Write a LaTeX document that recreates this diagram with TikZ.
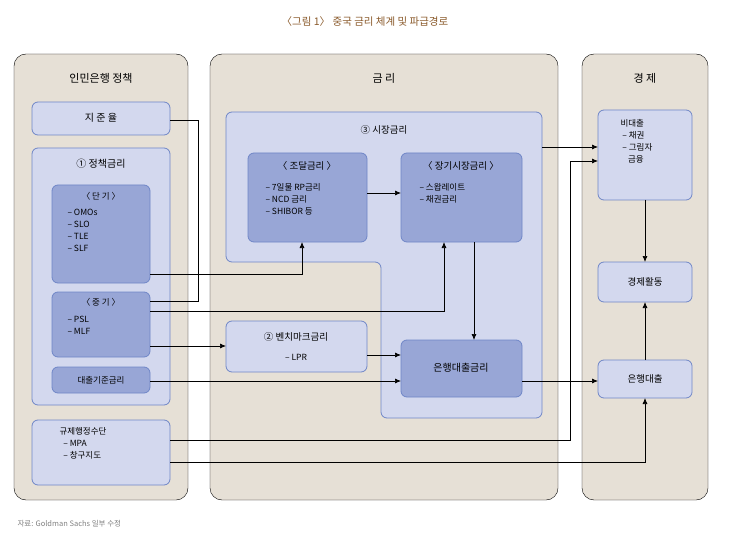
\documentclass[tikz,border=0pt]{standalone}
\usepackage{fontspec}
\setmainfont{Noto Sans CJK KR}
\usetikzlibrary{arrows.meta}
\definecolor{panel}{HTML}{E6E0D6}
\definecolor{lightbox}{HTML}{D3D8EE}
\definecolor{darkbox}{HTML}{98A6D6}
\definecolor{boxline}{HTML}{6F86C7}
\definecolor{titlecol}{HTML}{8A5A2B}
\begin{document}
\begin{tikzpicture}[x=1pt,y=-1pt,
    panel/.style={fill=panel,rounded corners=12pt},
    light/.style={fill=lightbox,draw=boxline,line width=0.8pt,rounded corners=6pt},
    dark/.style={fill=darkbox,draw=boxline,line width=0.8pt,rounded corners=6pt},
    head/.style={font=\fontsize{11}{13}\selectfont},
    txt/.style={font=\fontsize{8.5}{12}\selectfont,align=left},
    arr/.style={-{Latex[length=6pt,width=5pt]},line width=0.7pt},
    lin/.style={line width=0.7pt}]
    \useasboundingbox (0,0) rectangle (730,545);
    \node[titlecol,font=\fontsize{10.5}{12}\selectfont] (title) at (365,22) {〈그림 1〉 중국 금리 체계 및 파급경로};
    % panels
    \filldraw[panel] (14,54) rectangle (188,500);
    \filldraw[panel] (210,54) rectangle (558,500);
    \filldraw[panel] (582,54) rectangle (708,500);
    \node[head] (p1) at (101,78) {인민은행 정책};
    \node[head] (p2) at (384,78) {금 리};
    \node[head] (p3) at (645,78) {경 제};
    % policy side
    \draw[light] (32,102) rectangle (170,135);
    \node[head,font=\fontsize{10}{12}\selectfont] (jijun) at (101,118) {지 준 율};
    \draw[light] (32,148) rectangle (170,405);
    \node[head,font=\fontsize{10}{12}\selectfont] (jeongchaek) at (101,164) {① 정책금리};
    \draw[dark] (52,185) rectangle (150,283);
    \node[txt,anchor=north] (dangi) at (101,189) {〈 단 기 〉};
    \node[txt,anchor=north west] (dangiitems) at (64,206) {– OMOs\\– SLO\\– TLE\\– SLF};
    \draw[dark] (52,292) rectangle (150,357);
    \node[txt,anchor=north] (junggi) at (101,295) {〈 중 기 〉};
    \node[txt,anchor=north west] (junggiitems) at (64,313) {– PSL\\– MLF};
    \draw[dark] (52,367) rectangle (150,393);
    \node[txt] (gijun) at (101,380) {대출기준금리};
    \draw[light] (32,420) rectangle (170,485);
    \node[txt,anchor=north west] (gyuje) at (56,424) {규제행정수단\\\ \ – MPA\\\ \ – 창구지도};
    % market rates
    \draw[light,fill=lightbox] (226,112) -- (542,112) -- (542,418) -- (381,418) -- (381,262) -- (226,262) -- cycle;
    \node[txt,font=\fontsize{9.5}{12}\selectfont] (sijang) at (384,130) {③ 시장금리};
    \draw[dark] (248,153) rectangle (367,242);
    \node[txt,anchor=north,font=\fontsize{9.5}{12}\selectfont] (jodal) at (307,158) {〈 조달금리 〉};
    \node[txt,anchor=north west] (jodalitems) at (262,180) {– 7일물 RP금리\\– NCD 금리\\– SHIBOR 등};
    \draw[dark] (401,153) rectangle (522,242);
    \node[txt,anchor=north,font=\fontsize{9.5}{12}\selectfont] (janggi) at (461,158) {〈 장기시장금리 〉};
    \node[txt,anchor=north west] (janggiitems) at (416,180) {– 스왑레이트\\– 채권금리};
    \draw[light] (226,321) rectangle (367,372);
    \node[txt,font=\fontsize{9.5}{12}\selectfont] (bench) at (296,337) {② 벤치마크금리};
    \node[txt] (lpr) at (296,357) {– LPR};
    \draw[dark] (401,340) rectangle (522,397);
    \node[txt,font=\fontsize{10}{12}\selectfont] (loanrate) at (461,368) {은행대출금리};
    % economy
    \draw[light] (598,110) rectangle (692,200);
    \node[txt,anchor=north west] (bidaechul) at (617,116) {비대출\\\ – 채권\\\ – 그림자\\\ \ \ \ 금융};
    \draw[light] (598,262) rectangle (692,302);
    \node[txt,font=\fontsize{9.5}{12}\selectfont] (hwaldong) at (645,282) {경제활동};
    \draw[light] (598,360) rectangle (692,398);
    \node[txt,font=\fontsize{9.5}{12}\selectfont] (daechul) at (645,379) {은행대출};
    % connectors
    \draw[lin] (170,120) -- (198,120) -- (198,301) -- (150,301);
    \draw[arr] (150,274) -- (302,274) -- (302,242);
    \draw[arr] (150,311) -- (444,311) -- (444,242);
    \draw[arr] (150,346) -- (226,346);
    \draw[arr] (367,355) -- (401,355);
    \draw[arr] (150,381) -- (401,381);
    \draw[arr] (367,193) -- (401,193);
    \draw[arr] (474,242) -- (474,340);
    \draw[arr] (542,147) -- (598,147);
    \draw[arr] (170,440) -- (570,440) -- (570,161) -- (598,161);
    \draw[arr] (522,381) -- (598,381);
    \draw[arr] (170,462) -- (645,462) -- (645,398);
    \draw[arr] (645,200) -- (645,262);
    \draw[arr] (645,360) -- (645,302);
    \node[anchor=west,gray,font=\fontsize{7.5}{9}\selectfont] (source) at (14,524) {자료: Goldman Sachs 일부 수정};
\end{tikzpicture}
\end{document}
